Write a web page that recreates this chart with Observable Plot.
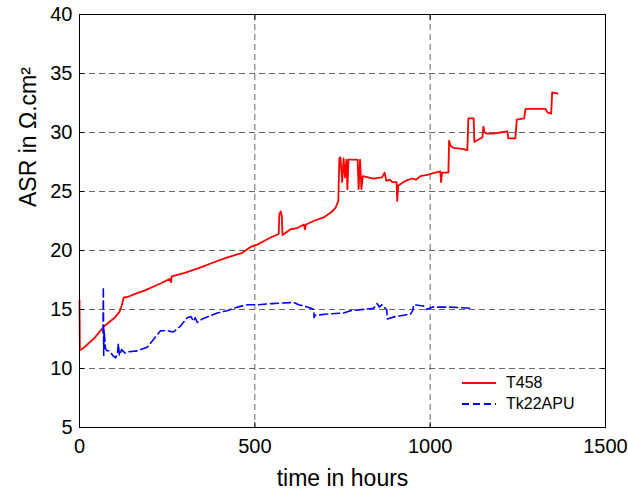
<!DOCTYPE html>
<html>
<head>
<meta charset="utf-8">
<script src="https://cdn.jsdelivr.net/npm/d3@7"></script>
<script src="https://cdn.jsdelivr.net/npm/@observablehq/plot@0.6"></script>
<style>
  html, body { margin: 0; padding: 0; background: #fff; }
  #wrap { position: relative; width: 628px; height: 489px; font-family: "Liberation Sans", Arial, sans-serif; }
  #legend { position: absolute; left: 462px; top: 372px; font-size: 16px; line-height: 21px; color: #000; }
  #legend .row { display: flex; align-items: center; height: 21px; }
  #legend svg { margin-right: 10px; }
</style>
</head>
<body>
<div id="wrap">
  <div id="chart"></div>
  <div id="legend"></div>
</div>
<script>
// Series T458 (red, solid)
const t458Hours = [0, 1, 5, 14, 43, 71, 100, 114, 120, 126, 140, 157, 185, 231, 258, 261, 263, 300, 340, 374, 420, 464, 488, 507, 545, 568, 570, 574, 577, 579, 583, 602, 621, 640, 643, 646, 668, 696, 716, 730, 738, 741, 744, 749, 753, 757, 761, 764, 767, 793, 796, 800, 804, 808, 838, 863, 870, 875, 885, 892, 904, 906, 909, 929, 949, 960, 972, 992, 1001, 1029, 1031, 1034, 1052, 1054, 1058, 1066, 1095, 1106, 1109, 1124, 1126, 1138, 1149, 1152, 1155, 1163, 1180, 1200, 1220, 1223, 1243, 1247, 1268, 1272, 1295, 1329, 1334, 1345, 1348, 1363];
const t458ASR = [15.8, 11.6, 11.6, 11.8, 12.6, 13.6, 14.3, 14.8, 15.3, 16.0, 16.1, 16.3, 16.6, 17.2, 17.6, 17.3, 17.8, 18.1, 18.5, 18.9, 19.4, 19.8, 20.3, 20.5, 21.1, 21.4, 23.1, 23.3, 22.9, 21.3, 21.4, 21.8, 21.9, 22.2, 21.8, 22.2, 22.5, 22.8, 23.2, 23.6, 24.2, 27.8, 27.9, 25.8, 27.8, 26.2, 27.7, 25.2, 27.7, 27.7, 25.2, 27.7, 25.2, 26.3, 26.1, 26.2, 26.6, 25.9, 26.0, 25.8, 25.8, 24.2, 25.5, 25.9, 26.1, 26.0, 26.3, 26.4, 26.5, 26.7, 25.8, 26.6, 26.6, 29.3, 28.9, 28.7, 28.6, 28.5, 31.2, 31.2, 29.2, 29.4, 29.6, 30.5, 30.0, 29.9, 29.9, 30.0, 30.1, 29.5, 29.5, 31.1, 31.2, 32.0, 32.0, 32.0, 31.7, 31.6, 33.4, 33.3];

// Series Tk22APU (blue, dashed)
const tk22Hours = [67, 68, 69, 70, 72, 74, 78, 85, 95, 103, 108, 111, 114, 120, 130, 136, 165, 193, 231, 250, 268, 288, 307, 318, 325, 330, 336, 350, 393, 421, 450, 478, 507, 550, 610, 625, 640, 660, 668, 669, 672, 700, 753, 773, 838, 849, 855, 862, 872, 876, 878, 900, 944, 950, 953, 981, 990, 1006, 1058, 1120];
const tk22ASR = [13.0, 16.9, 11.1, 13.3, 12.5, 11.7, 11.5, 11.5, 11.1, 10.9, 11.3, 12.1, 11.1, 11.6, 11.3, 11.4, 11.5, 11.8, 13.2, 13.2, 13.1, 13.6, 14.3, 14.4, 14.0, 14.3, 13.9, 14.2, 14.7, 14.9, 15.2, 15.4, 15.4, 15.5, 15.6, 15.4, 15.3, 15.1, 15.0, 14.3, 14.5, 14.6, 14.7, 14.9, 15.1, 15.5, 15.2, 15.4, 15.1, 15.0, 14.2, 14.4, 14.6, 14.9, 15.4, 15.3, 15.0, 15.2, 15.2, 15.1];

// Axes
const xTicks = [0, 500, 1000, 1500];
const yTicks = [5, 10, 15, 20, 25, 30, 35, 40];
const xGrid = [500, 1000];
const yGrid = [10, 15, 20, 25, 30, 35];

const xLabel = "time in hours";
const yLabel = "ASR in Ω.cm²";
const seriesNames = ["T458", "Tk22APU"];
const seriesColors = ["#ff0000", "#0000ff"];

const red = t458Hours.map((h, i) => ({h, v: t458ASR[i]}));
const blue = tk22Hours.map((h, i) => ({h, v: tk22ASR[i]}));

const noText = () => "";
const plain = d => String(d);

const chart = Plot.plot({
  width: 628,
  height: 489,
  marginLeft: 79,
  marginRight: 23,
  marginTop: 14,
  marginBottom: 62,
  style: {fontFamily: "'Liberation Sans', Arial, sans-serif", fontSize: "20px", color: "#000", background: "#fff", overflow: "visible"},
  x: {domain: [0, 1500]},
  y: {domain: [5, 40]},
  marks: [
    Plot.gridX(xGrid, {stroke: "#555", strokeOpacity: 1, strokeWidth: 0.9, strokeDasharray: "6,4"}),
    Plot.gridY(yGrid, {stroke: "#555", strokeOpacity: 1, strokeWidth: 0.9, strokeDasharray: "6,4"}),
    Plot.line(red, {x: "h", y: "v", stroke: seriesColors[0], strokeWidth: 1.8}),
    Plot.line(blue, {x: "h", y: "v", stroke: seriesColors[1], strokeWidth: 1.6, strokeDasharray: "8,4"}),
    Plot.frame({stroke: "#000", strokeWidth: 1}),
    Plot.axisX(xTicks, {anchor: "bottom", tickSize: 0, tickPadding: 11, fontSize: 20, tickFormat: plain, label: null}),
    Plot.axisX(xTicks, {anchor: "bottom", tickSize: -5, tickFormat: noText, label: null}),
    Plot.axisX(xTicks, {anchor: "top", tickSize: -5, tickFormat: noText, label: null}),
    Plot.axisY(yTicks, {anchor: "left", tickSize: 0, tickPadding: 7, fontSize: 20, tickFormat: plain, label: null}),
    Plot.axisY(yTicks, {anchor: "left", tickSize: -5, tickFormat: noText, label: null}),
    Plot.axisY(yTicks, {anchor: "right", tickSize: -5, tickFormat: noText, label: null}),
    Plot.text([xLabel], {frameAnchor: "bottom", text: d => d, dy: 58, lineAnchor: "bottom", fontSize: 23, fill: "#000"}),
    Plot.text([yLabel], {frameAnchor: "left", text: d => d, dx: -44, dy: -14, rotate: -90, lineAnchor: "bottom", fontSize: 23, fill: "#000"})
  ]
});
document.getElementById("chart").appendChild(chart);

// Legend
const legend = document.getElementById("legend");
seriesNames.forEach((name, i) => {
  const row = document.createElement("div");
  row.className = "row";
  const dash = i === 1 ? ' stroke-dasharray="7,4"' : "";
  row.innerHTML = `<svg width="34" height="6"><line x1="0" y1="3" x2="34" y2="3" stroke="${seriesColors[i]}" stroke-width="1.8"${dash}/></svg><span>${name}</span>`;
  legend.appendChild(row);
});
</script>
</body>
</html>
